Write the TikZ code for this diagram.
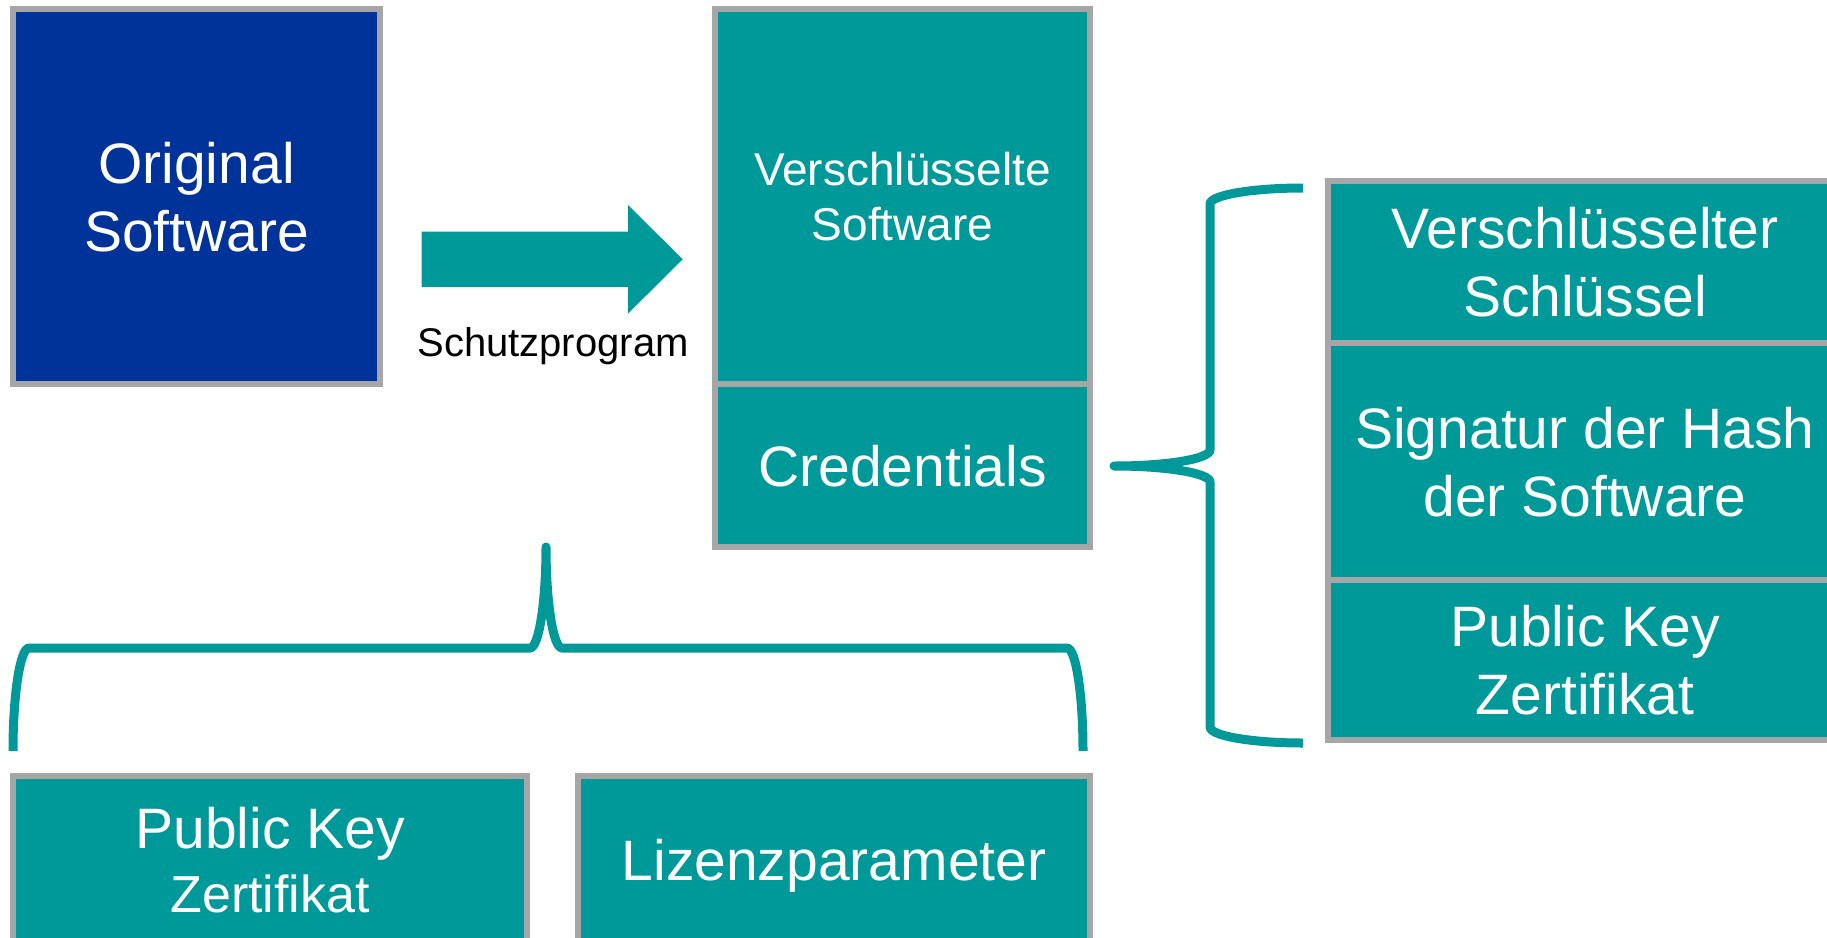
\documentclass[tikz,border=0pt]{standalone}
\usepackage{fontspec}
\setmainfont{Liberation Sans}
\definecolor{tealbox}{HTML}{009999}
\definecolor{navybox}{HTML}{003399}
\definecolor{framegrey}{HTML}{A6A6A6}
\tikzset{
  box/.style={draw=framegrey, line width=6pt, fill=tealbox, text=white,
    inner sep=0pt, align=center, text depth=0pt,
    font=\fontsize{57}{68}\selectfont},
  bracepath/.style={draw=tealbox, line width=9pt, line cap=butt, line join=round},
}
\begin{document}
\begin{tikzpicture}[x=1pt,y=-1pt]
\useasboundingbox (0,0) rectangle (1827,937);
\fill[white] (0,0) rectangle (1827,937);
\clip (0,0) rectangle (1827,937);

% left block
\node[box, fill=navybox, minimum width=367pt, minimum height=375pt] (orig) at (196.5,196.5) {Original\\Software};

% middle column
\node[box, minimum width=375pt, minimum height=375pt, font=\fontsize{46}{55}\selectfont] (enc) at (902.5,196.5) {Verschlüsselte\\Software};
\node[box, minimum width=375pt, minimum height=163pt] (cred) at (902.5,465.5) {Credentials};

% right column
\node[box, minimum width=514pt, minimum height=162pt] (key) at (1585,262) {Verschlüsselter\\Schlüssel};
\node[box, minimum width=514pt, minimum height=237pt] (sig) at (1585,461.5) {Signatur der Hash\\der Software};
\node[box, minimum width=514pt, minimum height=160pt] (cert) at (1585,660) {Public Key\\Zertifikat};

% bottom row
\node[box, minimum width=514pt, minimum height=167pt, font=\fontsize{57}{64}\selectfont] (pkz) at (270,859.5) {Public Key\\{\fontsize{52}{64}\selectfont Zertifikat}};
\node[box, minimum width=512pt, minimum height=167pt] (lic) at (834,859.5) {Lizenzparameter};

% block arrow
\coordinate (atail) at (421.7,259.3);
\coordinate (atip) at (682.7,259.3);
\fill[tealbox] (421.7,231.7) -- (628,231.7) -- (628,205) -- (atip) -- (628,313.6) -- (628,287) -- (421.7,287) -- cycle;
\node[font=\fontsize{40}{48}\selectfont, anchor=base] (lbl) at (553,356.7) {Schutzprogram};

% right brace
\coordinate (rtip) at (1114,466);
\draw[bracepath] (1303,188) .. controls (1251.6,188) and (1210,195.2) .. (1210,204)
  -- (1210,450) .. controls (1210,458.8) and (1167,466) .. (rtip)
  .. controls (1167,466) and (1210,473.2) .. (1210,482)
  -- (1210,727) .. controls (1210,735.8) and (1251.6,743) .. (1303,743);

% lower brace
\coordinate (btip) at (546,547);
\draw[bracepath] (13,751) .. controls (13,694.1) and (20.2,648) .. (29,648)
  -- (530,648) .. controls (538.8,648) and (546,602.8) .. (btip)
  .. controls (546,602.8) and (553.2,648) .. (562,648)
  -- (1067,648) .. controls (1075.8,648) and (1083,694.1) .. (1083,751);
\end{tikzpicture}
\end{document}
